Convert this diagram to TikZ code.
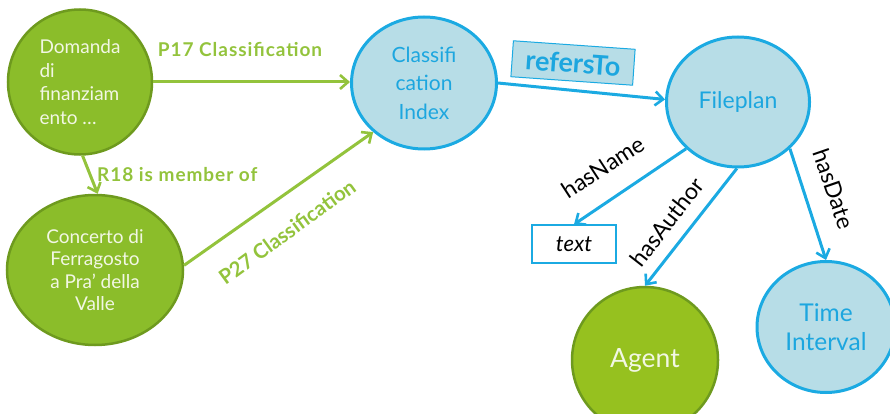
\documentclass[tikz,border=0pt]{standalone}
\usepackage{fontspec}
\setmainfont{Lato}
\usetikzlibrary{shapes.geometric,arrows.meta}
\definecolor{gfill}{HTML}{8BBD2A}
\definecolor{afill}{HTML}{96C11F}
\definecolor{gdraw}{HTML}{6E9A1E}
\definecolor{glab}{HTML}{93C33C}
\definecolor{bdraw}{HTML}{1BAAE2}
\definecolor{bfill}{HTML}{B7DDE7}
\definecolor{btext}{HTML}{1CA6DF}
\definecolor{gtext}{HTML}{F2F7E4}
\tikzset{
  gnode/.style={ellipse, draw=gdraw, fill=gfill, line width=2.5pt, text=gtext, inner sep=0pt},
  bnode/.style={ellipse, draw=bdraw, fill=bfill, line width=3pt, text=btext, inner sep=0pt},
  tip/.style={-{Straight Barb[length=8pt,width=14pt,line width=2.6pt]}},
  garrow/.style={draw=glab, line width=3pt, tip},
  barrow/.style={draw=bdraw, line width=3pt, tip},
  glabel/.style={text=glab, font=\fontsize{19}{21}\selectfont\bfseries\addfontfeature{LetterSpace=5}, inner sep=0pt},
  glabelrot/.style={text=glab, font=\fontsize{20.5}{22}\selectfont\bfseries, inner sep=0pt},
  klabel/.style={text=black, font=\fontsize{23}{25}\selectfont, inner sep=0pt},
}
\begin{document}
\begin{tikzpicture}[x=1pt,y=-1pt]
\useasboundingbox (0,0) rectangle (890,414);
% nodes
\node[gnode, minimum width=144pt, minimum height=145pt, align=left,
      font=\fontsize{19}{23.5}\selectfont] (dom) at (80,82)
      {Domanda\\di\\finanziam\\ento \dots};
\node[gnode, minimum width=176pt, minimum height=150pt, align=center,
      font=\fontsize{19}{22.5}\selectfont] (con) at (95,270)
      {Concerto di\\Ferragosto\\a Pra’ della\\Valle};
\node[bnode, minimum width=145pt, minimum height=132pt, align=center,
      font=\fontsize{21}{28.5}\selectfont] (cls) at (424,83)
      {Classifi\\cation\\Index};
\node[bnode, minimum width=143pt, minimum height=130pt,
      font=\fontsize{23}{26}\selectfont] (fp) at (738,102) {Fileplan};
\node[gnode, fill=afill, minimum width=146pt, minimum height=146pt,
      font=\fontsize{26.5}{30}\selectfont] (ag) at (645,360) {Agent};
\node[bnode, minimum width=138pt, minimum height=131pt, align=center,
      font=\fontsize{24.5}{29}\selectfont] (ti) at (826,327) {Time\\Interval};
\node[draw=bdraw, line width=1.2pt, fill=white, minimum width=84pt, minimum height=38pt,
      inner sep=0pt, font=\fontsize{22}{24}\selectfont\itshape] (txt) at (574,244) {text};
% edges
\draw[garrow] (dom) -- (cls.west |- dom);
\draw[garrow] (dom.-88) -- (con.88);
\draw[garrow] (con.3) -- (cls.224);
\draw[barrow] (cls.east) -- (fp.178);
\draw[barrow] (fp.222) -- (txt.north);
\draw[barrow] (fp.269) -- (ag.north);
\draw[barrow] (fp.318) -- (ti.north);
% labels
\node[glabel] (l17) at (240,50) {P17 Classification};
\node[glabel, anchor=west] (l18) at (97,175) {R18 is member of};
\node[glabelrot, rotate=36] (l27) at (287,232) {P27 Classification};
\node[draw=bdraw, line width=1pt, fill=bfill, minimum width=122pt, minimum height=36pt,
      rotate=-4, text=btext, font=\fontsize{27}{30}\selectfont\bfseries, inner sep=0pt]
      (rt) at (573,63) {refersTo};
\node[klabel, rotate=33] (lname) at (603,167) {hasName};
\node[klabel, rotate=52] (lauth) at (667,222) {hasAuthor};
\node[klabel, rotate=-71] (ldate) at (834,189) {hasDate};
\end{tikzpicture}
\end{document}
